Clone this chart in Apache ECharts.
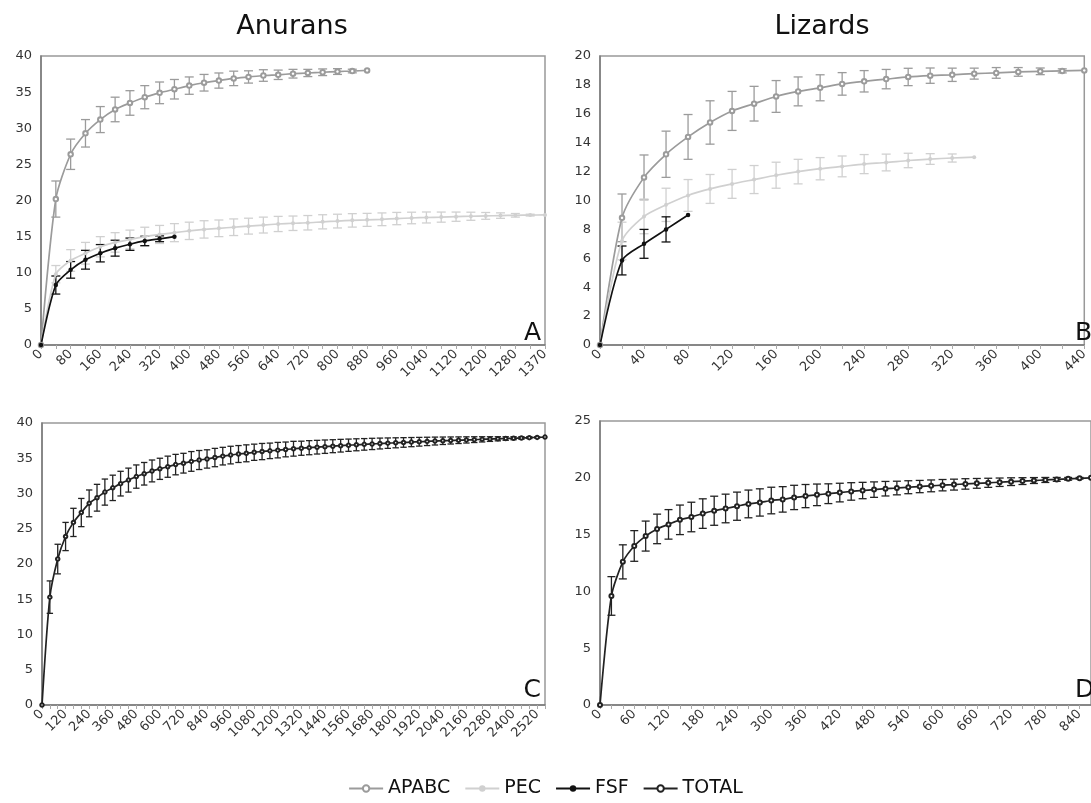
<!DOCTYPE html>
<html>
<head>
<meta charset="utf-8">
<script src="https://cdn.jsdelivr.net/npm/echarts@6/dist/echarts.min.js"></script>
<style>
  html, body { margin: 0; background: #fff; }
  #chart { width: 1091px; height: 803px; }
</style>
</head>
<body>
<div id="chart"></div>
<script>
// --- data ---
// anurans (A): sampling effort categories
const anuranCats = [0, 40, 80, 120, 160, 200, 240, 280, 320, 360, 400, 440, 480, 520, 560, 600, 640, 680,
  720, 760, 800, 840, 880, 920, 960, 1000, 1040, 1080, 1120, 1160, 1200, 1240, 1280, 1320, 1370];
const anuranApabc = [0, 20.2, 26.4, 29.3, 31.2, 32.6, 33.5, 34.3, 34.9, 35.4, 35.9, 36.3, 36.6, 36.9, 37.1,
  37.3, 37.4, 37.55, 37.65, 37.75, 37.85, 37.92, 38.0];
const anuranApabcErr = [0, 2.5, 2.1, 1.9, 1.8, 1.7, 1.7, 1.6, 1.5, 1.35, 1.2, 1.15, 1.05, 1.0, 0.85, 0.8,
  0.65, 0.6, 0.5, 0.46, 0.4, 0.25, 0];
const anuranPec = [0, 9.8, 11.7, 12.7, 13.6, 14.2, 14.6, 15.0, 15.3, 15.55, 15.8, 16.0, 16.15, 16.3, 16.45,
  16.6, 16.75, 16.85, 16.92, 17.05, 17.15, 17.25, 17.32, 17.4, 17.5, 17.58, 17.65, 17.7, 17.76, 17.82,
  17.87, 17.91, 17.95, 17.98, 18.0];
const anuranPecErr = [0, 1.2, 1.5, 1.5, 1.4, 1.35, 1.3, 1.3, 1.25, 1.25, 1.2, 1.2, 1.15, 1.15, 1.1, 1.1,
  1.05, 1.0, 1.0, 0.98, 0.95, 0.93, 0.9, 0.88, 0.85, 0.8, 0.76, 0.7, 0.64, 0.56, 0.47, 0.38, 0.25, 0.12, 0];
const anuranFsf = [0, 8.3, 10.4, 11.8, 12.7, 13.4, 13.95, 14.4, 14.7, 15.0];
const anuranFsfErr = [0, 1.25, 1.15, 1.3, 1.2, 1.1, 0.85, 0.65, 0.4, 0];

// lizards (B)
const lizardCats = [0, 20, 40, 60, 80, 100, 120, 140, 160, 180, 200, 220, 240, 260, 280, 300, 320, 340,
  360, 380, 400, 420, 440];
const lizardApabc = [0, 8.8, 11.6, 13.2, 14.4, 15.4, 16.2, 16.7, 17.2, 17.55, 17.8, 18.07, 18.25, 18.4,
  18.55, 18.64, 18.7, 18.78, 18.83, 18.9, 18.94, 18.97, 19.0];
const lizardApabcErr = [0, 1.65, 1.55, 1.6, 1.55, 1.5, 1.35, 1.2, 1.1, 1.0, 0.9, 0.78, 0.74, 0.67, 0.6,
  0.53, 0.46, 0.38, 0.37, 0.3, 0.23, 0.14, 0];
const lizardPec = [0, 7.2, 8.9, 9.7, 10.35, 10.8, 11.15, 11.45, 11.75, 12.0, 12.2, 12.36, 12.52, 12.63,
  12.77, 12.87, 12.94, 13.0];
const lizardPecErr = [0, 1.3, 1.2, 1.15, 1.1, 1.0, 1.0, 0.97, 0.9, 0.85, 0.77, 0.72, 0.66, 0.58, 0.5,
  0.37, 0.28, 0];
const lizardFsf = [0, 5.85, 7.0, 8.0, 9.0];
const lizardFsfErr = [0, 1.0, 1.0, 0.87, 0];

// anurans total (C)
const totalAnuranCats = [0, 40, 80, 120, 160, 200, 240, 280, 320, 360, 400, 440, 480, 520, 560, 600, 640,
  680, 720, 760, 800, 840, 880, 920, 960, 1000, 1040, 1080, 1120, 1160, 1200, 1240, 1280, 1320, 1360,
  1400, 1440, 1480, 1520, 1560, 1600, 1640, 1680, 1720, 1760, 1800, 1840, 1880, 1920, 1960, 2000, 2040,
  2080, 2120, 2160, 2200, 2240, 2280, 2320, 2360, 2400, 2440, 2480, 2520, 2560];
const totalAnuran = [0, 15.3, 20.7, 23.9, 25.9, 27.3, 28.6, 29.4, 30.2, 30.8, 31.4, 31.9, 32.4, 32.8, 33.2,
  33.5, 33.8, 34.1, 34.3, 34.55, 34.75, 34.9, 35.1, 35.3, 35.45, 35.6, 35.7, 35.85, 35.95, 36.05, 36.15,
  36.25, 36.35, 36.42, 36.5, 36.57, 36.64, 36.71, 36.78, 36.85, 36.91, 36.97, 37.03, 37.09, 37.14, 37.19,
  37.24, 37.29, 37.34, 37.39, 37.44, 37.48, 37.52, 37.56, 37.6, 37.64, 37.68, 37.72, 37.76, 37.8, 37.84,
  37.88, 37.92, 37.96, 38.0];
const totalAnuranErr = [0, 2.3, 2.1, 2.0, 2.0, 2.0, 1.9, 1.9, 1.85, 1.8, 1.75, 1.7, 1.65, 1.6, 1.55, 1.5,
  1.5, 1.45, 1.4, 1.4, 1.35, 1.3, 1.3, 1.25, 1.25, 1.2, 1.2, 1.15, 1.15, 1.1, 1.1, 1.05, 1.05, 1.0, 1.0,
  0.97, 0.95, 0.92, 0.9, 0.87, 0.85, 0.82, 0.8, 0.77, 0.74, 0.71, 0.68, 0.65, 0.62, 0.59, 0.56, 0.53, 0.5,
  0.47, 0.44, 0.41, 0.37, 0.33, 0.29, 0.25, 0.21, 0.17, 0.12, 0.07, 0];

// lizards total (D)
const totalLizardCats = [0, 20, 40, 60, 80, 100, 120, 140, 160, 180, 200, 220, 240, 260, 280, 300, 320, 340,
  360, 380, 400, 420, 440, 460, 480, 500, 520, 540, 560, 580, 600, 620, 640, 660, 680, 700, 720, 740, 760,
  780, 800, 820, 840, 860];
const totalLizard = [0, 9.6, 12.6, 14.0, 14.87, 15.5, 15.9, 16.3, 16.55, 16.85, 17.1, 17.3, 17.5, 17.7,
  17.83, 18.0, 18.1, 18.27, 18.39, 18.5, 18.6, 18.7, 18.8, 18.88, 18.96, 19.04, 19.1, 19.17, 19.23, 19.29,
  19.35, 19.4, 19.46, 19.51, 19.56, 19.61, 19.66, 19.71, 19.76, 19.81, 19.86, 19.91, 19.96, 20.0];
const totalLizardErr = [0, 1.7, 1.5, 1.35, 1.32, 1.3, 1.3, 1.3, 1.3, 1.3, 1.28, 1.26, 1.24, 1.22, 1.2,
  1.17, 1.12, 1.07, 1.02, 0.95, 0.87, 0.82, 0.77, 0.72, 0.68, 0.64, 0.6, 0.57, 0.54, 0.52, 0.5, 0.48, 0.46,
  0.43, 0.4, 0.37, 0.34, 0.3, 0.26, 0.22, 0.17, 0.12, 0.07, 0];

const FONT = 'DejaVu Sans';
const C_APABC = '#9b9b9b', C_PEC = '#d0d0d0', C_FSF = '#111111', C_TOTAL = '#222222';

// --- helpers ---
function lineSeries(name, data, idx, color, symbol, size) {
  return {
    type: 'line', name: name, data: data,
    xAxisIndex: idx, yAxisIndex: idx,
    symbol: symbol, symbolSize: size, smooth: 0.25,
    lineStyle: { color: color, width: 1.7 },
    itemStyle: { color: color, borderWidth: 0.9 },
    z: 3, animation: false
  };
}

function errorSeries(values, errs, idx, color, half) {
  const data = [];
  values.forEach((v, i) => { if (errs[i] > 0) data.push([i, v - errs[i], v + errs[i]]); });
  return {
    type: 'custom', data: data,
    xAxisIndex: idx, yAxisIndex: idx,
    encode: { x: 0, y: [1, 2] },
    z: 2, animation: false, silent: true,
    renderItem: function (params, api) {
      const x = api.value(0);
      const lo = api.coord([x, api.value(1)]);
      const hi = api.coord([x, api.value(2)]);
      const st = { stroke: color, lineWidth: 1.3 };
      return {
        type: 'group', children: [
          { type: 'line', shape: { x1: lo[0], y1: lo[1], x2: hi[0], y2: hi[1] }, style: st },
          { type: 'line', shape: { x1: lo[0] - half, y1: lo[1], x2: lo[0] + half, y2: lo[1] }, style: st },
          { type: 'line', shape: { x1: hi[0] - half, y1: hi[1], x2: hi[0] + half, y2: hi[1] }, style: st }
        ]
      };
    }
  };
}

function xAxis(cats, idx, every) {
  return {
    type: 'category', gridIndex: idx, data: cats, boundaryGap: false,
    axisLine: { lineStyle: { color: '#7a7a7a', width: 1.5 } },
    axisTick: { show: true, interval: 0, length: 4, lineStyle: { color: '#aaa' } },
    axisLabel: { interval: every, rotate: 45, fontFamily: FONT, fontSize: 13, color: '#333', margin: 7 },
    splitLine: { show: false }
  };
}

function yAxis(idx, max, step) {
  return {
    type: 'value', gridIndex: idx, min: 0, max: max, interval: step,
    axisLine: { show: true, lineStyle: { color: '#7a7a7a', width: 1.5 } },
    axisTick: { show: false },
    axisLabel: { fontFamily: FONT, fontSize: 13, color: '#333', margin: 9 },
    splitLine: { show: false }
  };
}

function label(text, x, y, size, align) {
  return {
    type: 'text', x: x, y: y,
    style: { text: text, font: size + 'px "' + FONT + '"', fill: '#111', textAlign: align, textVerticalAlign: 'middle' }
  };
}

const gridBase = { show: true, borderColor: '#999', borderWidth: 1.5, backgroundColor: '#fff' };

const option = {
  backgroundColor: '#fff',
  animation: false,
  grid: [
    Object.assign({ left: 41, top: 56, width: 504, height: 289 }, gridBase),
    Object.assign({ left: 600, top: 56, width: 498, height: 289 }, gridBase),
    Object.assign({ left: 42, top: 423, width: 503, height: 282 }, gridBase),
    Object.assign({ left: 600, top: 421, width: 498, height: 284 }, gridBase)
  ],
  xAxis: [
    xAxis(anuranCats, 0, 1),
    xAxis(lizardCats, 1, 1),
    xAxis(totalAnuranCats, 2, 2),
    xAxis(totalLizardCats, 3, 2)
  ],
  yAxis: [yAxis(0, 40, 5), yAxis(1, 20, 2), yAxis(2, 40, 5), yAxis(3, 25, 5)],
  legend: {
    data: ['APABC', 'PEC', 'FSF', 'TOTAL'],
    left: 'center', top: 774,
    itemWidth: 34, itemHeight: 8, itemGap: 14,
    textStyle: { fontFamily: FONT, fontSize: 19, color: '#111' }
  },
  graphic: [
    label('Anurans', 292, 27, 27, 'center'),
    label('Lizards', 822, 27, 27, 'center'),
    label('A', 541, 333, 25, 'right'),
    label('B', 1075, 333, 25, 'left'),
    label('C', 541, 690, 25, 'right'),
    label('D', 1075, 690, 25, 'left')
  ],
  series: [
    errorSeries(anuranApabc, anuranApabcErr, 0, C_APABC, 4.5),
    errorSeries(anuranPec, anuranPecErr, 0, C_PEC, 4.5),
    errorSeries(anuranFsf, anuranFsfErr, 0, C_FSF, 4.5),
    lineSeries('APABC', anuranApabc, 0, C_APABC, 'emptyCircle', 4.5),
    lineSeries('PEC', anuranPec, 0, C_PEC, 'circle', 4),
    lineSeries('FSF', anuranFsf, 0, C_FSF, 'circle', 4.5),

    errorSeries(lizardApabc, lizardApabcErr, 1, C_APABC, 4.5),
    errorSeries(lizardPec, lizardPecErr, 1, C_PEC, 4.5),
    errorSeries(lizardFsf, lizardFsfErr, 1, C_FSF, 4.5),
    lineSeries('APABC', lizardApabc, 1, C_APABC, 'emptyCircle', 4.5),
    lineSeries('PEC', lizardPec, 1, C_PEC, 'circle', 4),
    lineSeries('FSF', lizardFsf, 1, C_FSF, 'circle', 4.5),

    errorSeries(totalAnuran, totalAnuranErr, 2, C_TOTAL, 3.2),
    lineSeries('TOTAL', totalAnuran, 2, C_TOTAL, 'emptyCircle', 3.5),

    errorSeries(totalLizard, totalLizardErr, 3, C_TOTAL, 4),
    lineSeries('TOTAL', totalLizard, 3, C_TOTAL, 'emptyCircle', 4)
  ]
};

echarts.init(document.getElementById('chart')).setOption(option);
</script>
</body>
</html>
